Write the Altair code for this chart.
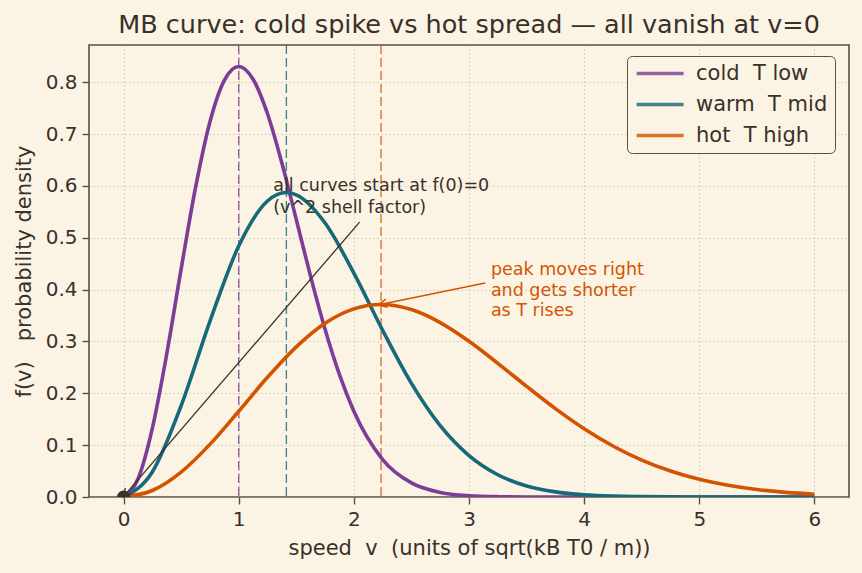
import altair as alt
import pandas as pd

# ---------------- data ----------------
series_names = ["cold\u00a0 T low", "warm\u00a0 T mid", "hot\u00a0 T high"]
series_colors = ["#7d3c98", "#17697a", "#d35400"]

cold_v = [0, 0.125, 0.25, 0.375, 0.5, 0.625, 0.75, 0.875, 1.0, 1.125, 1.25, 1.375, 1.5,
          1.625, 1.75, 1.875, 2.0, 2.25, 2.5, 2.75, 3.0, 3.25, 3.5, 4.0, 4.5, 5.0, 5.5, 6.0]
cold_f = [0, 0.0347, 0.1325, 0.2757, 0.4394, 0.5965, 0.7233, 0.8036, 0.8302, 0.8056, 0.7391,
          0.6441, 0.5352, 0.4250, 0.3233, 0.2359, 0.1654, 0.0723, 0.0272, 0.0089, 0.0025,
          0.0006, 0.0001, 0, 0, 0, 0, 0]

warm_v = [0, 0.25, 0.5, 0.75, 1.0, 1.25, 1.414, 1.5, 1.75, 2.0, 2.25, 2.5, 2.75, 3.0, 3.25,
          3.5, 3.75, 4.0, 4.25, 4.5, 4.75, 5.0, 5.5, 6.0]
warm_f = [0, 0.0483, 0.1760, 0.3388, 0.4839, 0.5708, 0.5871, 0.5828, 0.5285, 0.4319, 0.3214,
          0.2191, 0.1375, 0.0798, 0.0429, 0.0214, 0.0099, 0.0043, 0.0017, 0.0007, 0.0002,
          0.0001, 0, 0]

hot_v = [0, 0.25, 0.5, 0.75, 1.0, 1.25, 1.5, 1.75, 2.0, 2.236, 2.5, 2.75, 3.0, 3.25, 3.5,
         3.75, 4.0, 4.25, 4.5, 4.75, 5.0, 5.25, 5.5, 5.75, 6.0]
hot_f = [0, 0.0125, 0.0480, 0.1015, 0.1653, 0.2308, 0.2896, 0.3351, 0.3628, 0.3713, 0.3615,
         0.3364, 0.3003, 0.2578, 0.2134, 0.1705, 0.1317, 0.0984, 0.0712, 0.0500, 0.0340,
         0.0225, 0.0144, 0.0090, 0.0054]

peak_v = [1.0, 1.414, 2.236]

x_ticks = [0, 1, 2, 3, 4, 5, 6]
y_ticks = [0.0, 0.1, 0.2, 0.3, 0.4, 0.5, 0.6, 0.7, 0.8]

# annotations
note1_text = ["all curves start at f(0)=0", "(v^2 shell factor)"]
note1_pos = [1.30, 0.618]
arrow1 = [[2.05, 0.53], [0.02, 0.006]]
note2_text = ["peak moves right", "and gets shorter", "as T rises"]
note2_pos = [3.19, 0.455]
arrow2 = [[3.14, 0.4125], [2.25, 0.372]]
arrow1_angle = 221
arrow2_angle = 258

# ---------------- style ----------------
BG = "#fbf4e4"
INK = "#3a302a"
FRAME = "#5a4e44"
FONT = "DejaVu Sans"

rows = []
for name, vs, fs in zip(series_names, [cold_v, warm_v, hot_v], [cold_f, warm_f, hot_f]):
    for v, f in zip(vs, fs):
        rows.append({"series": name, "v": v, "f": f})
df = pd.DataFrame(rows)

peaks = pd.DataFrame({"col": series_colors, "v": peak_v})

xs = alt.Scale(domain=[-0.3, 6.3], nice=False, zero=False)
ys = alt.Scale(domain=[0, 0.8717], nice=False, zero=False)
cscale = alt.Scale(domain=series_names, range=series_colors)

x_enc = alt.X("v:Q", scale=xs,
              axis=alt.Axis(values=x_ticks, format="d",
                            title="speed\u00a0 v\u00a0 (units of sqrt(kB T0 / m))"))
y_enc = alt.Y("f:Q", scale=ys,
              axis=alt.Axis(values=y_ticks, format=".1f",
                            title="f(v)\u00a0\u00a0 probability density"))

# legend line symbol: a custom path that runs from -r to +5r (r = sqrt(size)/2)
legend = alt.Legend(
    title=None, orient="none", legendX=538, legendY=11,
    symbolType="M-1,0H5", symbolSize=245, symbolStrokeWidth=3.6, symbolOpacity=1,
    symbolFillColor="transparent",
    labelFontSize=21, labelFont=FONT, labelColor=INK, labelOffset=41,
    rowPadding=9, padding=7, strokeColor=FRAME, cornerRadius=5, fillColor=BG,
)
color_enc = alt.Color("series:N", scale=cscale, legend=legend)

layers = []
for i, name in enumerate(series_names):
    lay = alt.Chart(df).transform_filter(alt.datum.series == name).mark_line(
        strokeWidth=3.6, interpolate="monotone", clip=True
    ).encode(x=x_enc, y=y_enc, color=color_enc)
    layers.append(lay)

vlines = alt.Chart(peaks).mark_rule(strokeWidth=1.4, strokeDash=[9, 4], opacity=0.8).encode(
    x=alt.X("v:Q", scale=xs),
    color=alt.Color("col:N", scale=None),
)

dot = alt.Chart(pd.DataFrame({"v": [0.0], "f": [0.0]})).mark_point(
    filled=True, size=170, color=INK, opacity=1, clip=True
).encode(x=alt.X("v:Q", scale=xs), y=alt.Y("f:Q", scale=ys))

a1 = pd.DataFrame({"v": [arrow1[0][0]], "f": [arrow1[0][1]],
                   "v2": [arrow1[1][0]], "f2": [arrow1[1][1]]})
arrow1_line = alt.Chart(a1).mark_rule(color=INK, strokeWidth=1.3).encode(
    x=alt.X("v:Q", scale=xs), y=alt.Y("f:Q", scale=ys), x2="v2:Q", y2="f2:Q")
a1h = pd.DataFrame({"v": [arrow1[1][0]], "f": [arrow1[1][1]]})
chevron = "M-1,1L0,-1L1,1"
arrow1_head = alt.Chart(a1h).mark_point(
    shape=chevron, size=70, color=INK, strokeWidth=1.3, filled=False, angle=arrow1_angle, opacity=1
).encode(x=alt.X("v:Q", scale=xs), y=alt.Y("f:Q", scale=ys))

a2 = pd.DataFrame({"v": [arrow2[0][0]], "f": [arrow2[0][1]],
                   "v2": [arrow2[1][0]], "f2": [arrow2[1][1]]})
arrow2_line = alt.Chart(a2).mark_rule(color="#d35400", strokeWidth=1.5).encode(
    x=alt.X("v:Q", scale=xs), y=alt.Y("f:Q", scale=ys), x2="v2:Q", y2="f2:Q")
a2h = pd.DataFrame({"v": [arrow2[1][0]], "f": [arrow2[1][1]]})
arrow2_head = alt.Chart(a2h).mark_point(
    shape=chevron, size=70, color="#d35400", strokeWidth=1.5, filled=False, angle=arrow2_angle, opacity=1
).encode(x=alt.X("v:Q", scale=xs), y=alt.Y("f:Q", scale=ys))

n1 = pd.DataFrame({"v": [note1_pos[0]], "f": [note1_pos[1]], "t": ["\n".join(note1_text)]})
note1 = alt.Chart(n1).mark_text(
    align="left", baseline="top", fontSize=17.5, font=FONT, color=INK, lineBreak="\n", lineHeight=22
).encode(x=alt.X("v:Q", scale=xs), y=alt.Y("f:Q", scale=ys), text="t:N")

n2 = pd.DataFrame({"v": [note2_pos[0]], "f": [note2_pos[1]], "t": ["\n".join(note2_text)]})
note2 = alt.Chart(n2).mark_text(
    align="left", baseline="top", fontSize=17.5, font=FONT, color="#d35400", lineBreak="\n", lineHeight=20.5
).encode(x=alt.X("v:Q", scale=xs), y=alt.Y("f:Q", scale=ys), text="t:N")

chart = alt.layer(
    vlines, *layers, dot, arrow1_line, arrow1_head, arrow2_line, arrow2_head, note1, note2
).properties(
    width=760, height=452,
    title=alt.TitleParams(
        "MB curve: cold spike vs hot spread \u2014 all vanish at v=0",
        fontSize=25.5, font=FONT, fontWeight="normal", color=INK, anchor="middle", offset=6,
    ),
    background=BG,
    padding={"left": 89, "top": 45, "right": 13, "bottom": 76},
    autosize=alt.AutoSizeParams(type="none"),
).configure_view(
    stroke=FRAME, strokeWidth=1.6, fill=BG
).configure_axis(
    domain=False,
    grid=True, gridColor="#b3a898", gridDash=[1, 3], gridWidth=1, gridOpacity=0.9,
    tickColor=FRAME, tickSize=7, tickWidth=1.4,
    labelFont=FONT, labelFontSize=20, labelColor=INK, labelPadding=5,
    titleFont=FONT, titleFontSize=21, titleColor=INK, titleFontWeight="normal",
).configure_axisY(
    titlePadding=11,
).configure_axisX(
    titlePadding=8,
)

chart.save("out.html", embed_options={"renderer": "svg", "actions": False})
